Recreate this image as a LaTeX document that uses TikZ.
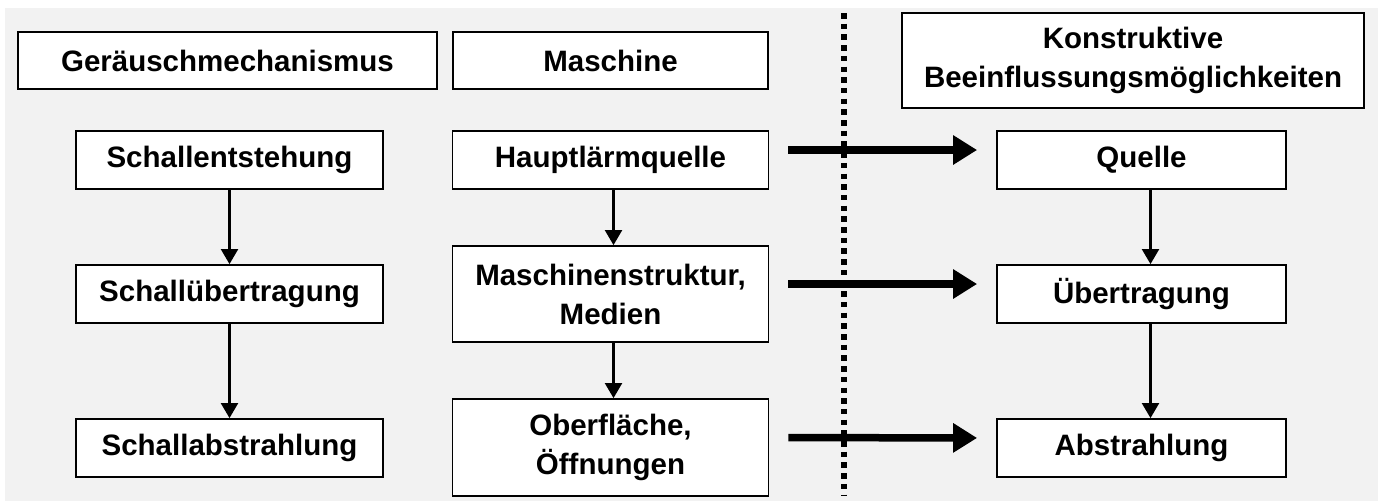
\documentclass[tikz,border=0pt]{standalone}
\usepackage{fontspec}
\setmainfont{Liberation Sans}
\usepackage{tikz}
\usetikzlibrary{arrows.meta}
\definecolor{bggray}{HTML}{F2F2F2}

\begin{document}
\begin{tikzpicture}[x=1pt, y=-1pt,
  box/.style={draw=black, fill=white, line width=1.8pt, align=center, inner sep=0pt,
    font=\bfseries\fontsize{29.5}{39}\selectfont},
  flow/.style={line width=2.1pt, -{Triangle[length=15pt, width=17pt]}},
  bigflow/.style={line width=7.5pt, -{Triangle[length=24pt, width=28pt]},
    shorten <=19pt, shorten >=19pt},
  sep/.style={line width=5.5pt, dash pattern=on 5.5pt off 5.2pt}]
\useasboundingbox (0,0) rectangle (1378,501);
\fill[bggray] (5,8) rectangle (1378,501);
%%% Draws headings
\node[box, minimum width=419pt, minimum height=57pt] (geraeusch) at (227.5,60.5) {Geräuschmechanismus};
\node[box, minimum width=315pt, minimum height=57pt] (maschine) at (610.5,60.5) {Maschine};
\node[box, minimum width=462pt, minimum height=95pt] (konstr) at (1133,60.5) {Konstruktive\\Beeinflussungsmöglichkeiten};
%%% Draws column 1
\node[box, minimum width=307pt, minimum height=58pt] (entsteh) at (229.5,160) {Schallentstehung};
\node[box, minimum width=307pt, minimum height=58pt] (uebertrA) at (229.5,294) {Schallübertragung};
\node[box, minimum width=307pt, minimum height=58pt] (abstrA) at (229.5,448) {Schallabstrahlung};
%%% Draws column 2
\node[box, minimum width=316pt, minimum height=58pt] (hlq) at (610.5,160) {Hauptlärmquelle};
\node[box, minimum width=316pt, minimum height=96pt] (struktur) at (610.5,294) {Maschinenstruktur,\\Medien};
\node[box, minimum width=316pt, minimum height=97pt] (oberfl) at (610.5,447.5) {Oberfläche,\\Öffnungen};
%%% Draws column 3
\node[box, minimum width=289pt, minimum height=58pt] (quelle) at (1141.5,160) {Quelle};
\node[box, minimum width=289pt, minimum height=58pt] (uebertr) at (1141.5,294) {Übertragung};
\node[box, minimum width=289pt, minimum height=58pt] (abstr) at (1141.5,448) {Abstrahlung};
% draws separator
\coordinate (septop) at (844,13);
\coordinate (sepbot) at (844,496);
\draw[sep] (septop) -- (sepbot);
% draws thin arrows
\draw[flow] (entsteh) -- (uebertrA);
\draw[flow] (uebertrA) -- (abstrA);
\draw[flow] ([xshift=3pt]hlq.south) -- ([xshift=3pt]struktur.north);
\draw[flow] ([xshift=3pt]struktur.south) -- ([xshift=3pt]oberfl.north);
\draw[flow] ([xshift=9pt]quelle.south) -- ([xshift=9pt]uebertr.north);
\draw[flow] ([xshift=9pt]uebertr.south) -- ([xshift=9pt]abstr.north);
% draws thick arrows
\draw[bigflow] ([yshift=10pt]hlq.east) -- ([yshift=10pt]quelle.west);
\draw[bigflow] ([yshift=10pt]struktur.east) -- ([yshift=10pt]uebertr.west);
\draw[bigflow] ([yshift=10pt]oberfl.east) -- ([yshift=10pt]abstr.west);
\end{tikzpicture}
\end{document}
